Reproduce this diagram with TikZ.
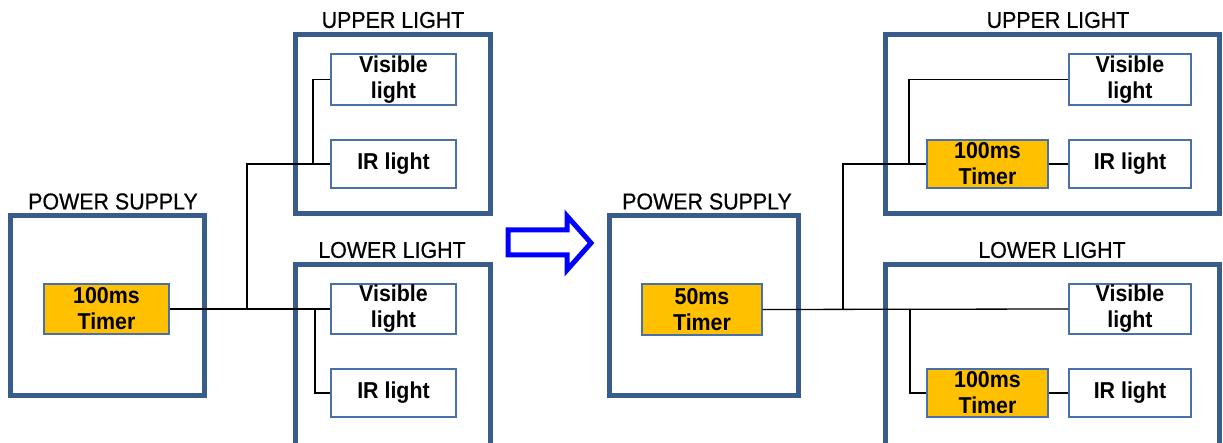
\documentclass[tikz,border=0pt]{standalone}
\usepackage{fontspec}
\setmainfont{Liberation Sans}[FakeStretch=0.93]
\newfontfamily\titlefont{Liberation Sans}[FakeStretch=0.93, FakeBold=0.6]
\definecolor{grpblue}{RGB}{56,93,138}
\definecolor{boxblue}{RGB}{74,112,170}
\definecolor{timerfill}{RGB}{255,192,0}
\definecolor{arrowblue}{RGB}{0,0,255}
\begin{document}
\begin{tikzpicture}[x=1pt,y=-1pt,
  group/.style={draw=grpblue, line width=4.5pt, inner sep=0pt, rectangle},
  title/.style={font=\titlefont\fontsize{23}{26}\selectfont, text=black, inner sep=0pt},
  lamp/.style={draw=boxblue, line width=1.2pt, fill=white, inner sep=0pt, align=center,
    font=\bfseries\fontsize{23}{26}\selectfont, minimum width=125pt, minimum height=50pt},
  timer/.style={lamp, fill=timerfill},
  wire/.style={draw=black, line width=1.3pt},
  bigarrow/.style={draw=arrowblue, line width=5pt, line join=miter, fill=white}]
\useasboundingbox (0,0) rectangle (1223,443);
\clip (0,0) rectangle (1223,443);

% ---------- left diagram ----------
\node[group, minimum width=194pt, minimum height=180pt] (ps1) at (107.5,305.5) {};
\node[title] (ps1t) at (113,201.5) {POWER SUPPLY};
\node[group, minimum width=195pt, minimum height=179pt] (up1) at (393,124) {};
\node[title] (up1t) at (393,20) {UPPER LIGHT};
\node[group, minimum width=195pt, minimum height=210pt] (lo1) at (393,369.5) {};
\node[title] (lo1t) at (392,250) {LOWER LIGHT};

\coordinate (j1) at (247,309);
\coordinate (j2) at (313,164);
\coordinate (j3) at (315,309);

\node[timer] (tm1) at (106.5,309) {100ms\\Timer};
\node[lamp, minimum height=51pt] (vis1) at (393.5,79.5) {Visible\\light};
\node[lamp, minimum height=48pt] (ir1) at (393.5,164) {IR light};
\node[lamp] (vis2) at (393.5,309) {Visible\\light};
\node[lamp, minimum height=48pt] (ir2) at (393.5,393) {IR light};

\draw[wire] (tm1.east) -- (vis2.west);
\draw[wire] (j1) |- (ir1.west);
\draw[wire] (j2) |- (vis1.west);
\draw[wire] (j3) |- (ir2.west);

% ---------- arrow ----------
\draw[bigarrow] (508,230) -- (567,230) -- (567,216) -- (591,243) -- (567,270) -- (567,255) -- (508,255) -- cycle;

% ---------- right diagram ----------
\node[group, minimum width=189pt, minimum height=180pt] (ps2) at (704,305.5) {};
\node[title] (ps2t) at (707,201.5) {POWER SUPPLY};
\node[group, minimum width=334pt, minimum height=179pt] (up2) at (1052.5,124) {};
\node[title] (up2t) at (1058,20) {UPPER LIGHT};
\node[group, minimum width=334pt, minimum height=210pt] (lo2) at (1052.5,369.5) {};
\node[title] (lo2t) at (1052,250) {LOWER LIGHT};

\coordinate (j4) at (843,309);
\coordinate (j5) at (909,164);
\coordinate (j6) at (910,309);

\node[timer, minimum width=120pt, minimum height=51pt] (tm2) at (702,309.5) {50ms\\Timer};
\node[lamp, minimum width=122pt, minimum height=51pt] (vis3) at (1130,79.5) {Visible\\light};
\node[timer, minimum width=121pt, minimum height=48pt] (tm3) at (987.5,164) {100ms\\Timer};
\node[lamp, minimum width=122pt, minimum height=48pt] (ir3) at (1130,164) {IR light};
\node[lamp, minimum width=122pt] (vis4) at (1130,309) {Visible\\light};
\node[timer, minimum width=121pt, minimum height=48pt] (tm4) at (987.5,393) {100ms\\Timer};
\node[lamp, minimum width=122pt, minimum height=48pt] (ir4) at (1130,393) {IR light};

\draw[wire] (tm2.east) -- (vis4.west);
\draw[wire] (j4) |- (tm3.west);
\draw[wire] (j5) |- (vis3.west);
\draw[wire] (tm3.east) -- (ir3.west);
\draw[wire] (j6) |- (tm4.west);
\draw[wire] (tm4.east) -- (ir4.west);
\end{tikzpicture}
\end{document}
